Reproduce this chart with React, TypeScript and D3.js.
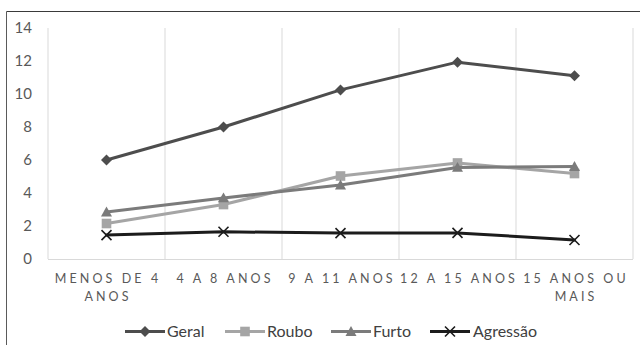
import React from "react";
import * as d3 from "d3";

const categories: string[][] = [
  ["MENOS DE 4", "ANOS"],
  ["4 A 8 ANOS"],
  ["9 A 11 ANOS"],
  ["12 A 15 ANOS"],
  ["15 ANOS OU", "MAIS"],
];
const geral = [6.0, 8.0, 10.25, 11.93, 11.1];
const roubo = [2.15, 3.3, 5.03, 5.82, 5.18];
const furto = [2.85, 3.7, 4.48, 5.55, 5.6];
const agressao = [1.45, 1.65, 1.57, 1.58, 1.15];
const yTicks = [0, 2, 4, 6, 8, 10, 12, 14];

const seriesNames = ["Geral", "Roubo", "Furto", "Agressão"];
const seriesValues = [geral, roubo, furto, agressao];
const seriesColors = ["#4d4d4d", "#a5a5a5", "#7b7b7b", "#1c1c1c"];
const seriesMarkers = ["diamond", "square", "triangle", "x"];

const FONT = "Lato, 'Open Sans', sans-serif";

function Marker({ kind, x, y, color }: { kind: string; x: number; y: number; color: string }) {
  if (kind === "diamond") {
    const s = 5.5;
    return <path d={`M${x},${y - s}L${x + s},${y}L${x},${y + s}L${x - s},${y}Z`} fill={color} />;
  }
  if (kind === "square") {
    const s = 4.8;
    return <rect x={x - s} y={y - s} width={2 * s} height={2 * s} fill={color} />;
  }
  if (kind === "triangle") {
    const s = 5.5;
    return <path d={`M${x},${y - s}L${x + s},${y + s * 0.8}L${x - s},${y + s * 0.8}Z`} fill={color} />;
  }
  const s = 5;
  return (
    <path
      d={`M${x - s},${y - s}L${x + s},${y + s}M${x - s},${y + s}L${x + s},${y - s}`}
      stroke={color}
      strokeWidth={1.6}
      fill="none"
    />
  );
}

export default function App() {
  const W = 640;
  const H = 345;
  const x = d3
    .scaleBand<number>()
    .domain(categories.map((_, i) => i))
    .range([48, 633])
    .padding(0);
  const y = d3.scaleLinear().domain([0, 14]).range([259, 28]);
  const cx = (i: number) => (x(i) as number) + x.bandwidth() / 2;
  const line = d3
    .line<number>()
    .x((_, i) => cx(i))
    .y((d) => y(d));

  const boundaries = categories.map((_, i) => x(i) as number).concat([633]);

  const legendItems = [
    { lx: 125, tx: 167 },
    { lx: 225, tx: 267 },
    { lx: 331, tx: 373 },
    { lx: 430, tx: 473 },
  ];
  const legendY = 331.5;

  return (
    <svg
      width={W}
      height={H}
      style={{ position: "absolute", left: 0, top: 0, background: "#fff" }}
      fontFamily={FONT}
    >
      <rect x={0} y={0} width={W} height={H} fill="#fff" />
      {/* frame */}
      <line x1={6.5} y1={11.5} x2={W} y2={11.5} stroke="#3a3a3a" strokeWidth={1} />
      <line x1={6.5} y1={11.5} x2={6.5} y2={H} stroke="#5a5a5a" strokeWidth={1} />

      {/* vertical gridlines */}
      {boundaries.map((bx, i) => (
        <line key={i} x1={bx} x2={bx} y1={y(14)} y2={y(0)} stroke="#d9d9d9" strokeWidth={1} />
      ))}
      {/* x axis line */}
      <line x1={48} x2={633} y1={y(0) + 0.5} y2={y(0) + 0.5} stroke="#d9d9d9" strokeWidth={1} />

      {/* y tick labels */}
      {yTicks.map((t) => (
        <text
          key={t}
          x={32}
          y={y(t)}
          dy="0.35em"
          textAnchor="end"
          fontSize={15}
          fill="#595959"
        >
          {t}
        </text>
      ))}

      {/* x labels */}
      {categories.map((lines, i) => (
        <text key={i} textAnchor="middle" fontSize={12.5} fill="#595959" letterSpacing={3.1}>
          {lines.map((l, j) => (
            <tspan key={j} x={cx(i) + 1.5} y={283 + j * 18}>
              {l}
            </tspan>
          ))}
        </text>
      ))}

      {/* series */}
      {seriesValues.map((vals, s) => (
        <g key={s}>
          <path
            d={line(vals) || ""}
            fill="none"
            stroke={seriesColors[s]}
            strokeWidth={3}
            strokeLinejoin="round"
            strokeLinecap="round"
          />
          {vals.map((v, i) => (
            <Marker key={i} kind={seriesMarkers[s]} x={cx(i)} y={y(v)} color={seriesColors[s]} />
          ))}
        </g>
      ))}

      {/* legend */}
      {legendItems.map((it, s) => (
        <g key={s}>
          <line
            x1={it.lx}
            x2={it.lx + 40}
            y1={legendY}
            y2={legendY}
            stroke={seriesColors[s]}
            strokeWidth={3}
          />
          <Marker kind={seriesMarkers[s]} x={it.lx + 20} y={legendY} color={seriesColors[s]} />
          <text x={it.tx} y={legendY} dy="0.35em" fontSize={16} fill="#404040">
            {seriesNames[s]}
          </text>
        </g>
      ))}
    </svg>
  );
}
